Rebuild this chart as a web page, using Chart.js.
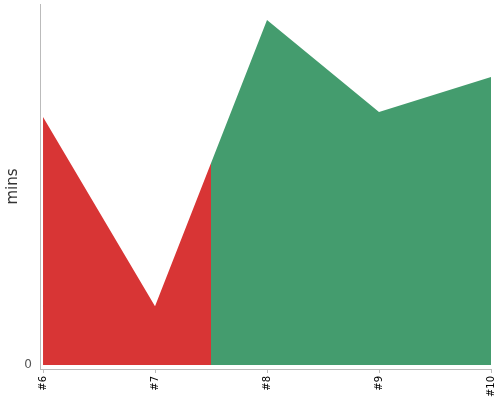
<!DOCTYPE html>
<html>
<head>
<meta charset="utf-8">
<script src="https://cdn.jsdelivr.net/npm/chart.js@4"></script>
<style>
  html, body { margin: 0; padding: 0; background: #fff; }
  #wrap { width: 500px; height: 400px; }
</style>
</head>
<body>
<div id="wrap"><canvas id="grafico"></canvas></div>
<script>
// categories and values (minutes)
const categorias = ['#6', '#7', '#8', '#9', '#10'];
const minutos = [68.7, 16.3, 95.6, 70.1, 79.8];
const yTicks = [0];

const rojo = '#d83535';
const verde = '#449c6e';

// red up to halfway between #7 and #8, green after
function relleno(ctx) {
    const chart = ctx.chart;
    const area = chart.chartArea;
    if (!area) return rojo;
    const xs = chart.scales.x;
    const corte = (xs.getPixelForValue(1) + xs.getPixelForValue(2)) / 2;
    const f = Math.min(Math.max((corte - area.left) / (area.right - area.left), 0), 1);
    const g = chart.ctx.createLinearGradient(area.left, 0, area.right, 0);
    g.addColorStop(0, rojo);
    g.addColorStop(f, rojo);
    g.addColorStop(f, verde);
    g.addColorStop(1, verde);
    return g;
}

const grafico = document.getElementById('grafico').getContext('2d');
new Chart(grafico, {
    type: 'line',
    data: {
        datasets: [{
            label: 'mins',
            data: minutos.map((v, i) => ({ x: i, y: v })),
            fill: 'origin',
            backgroundColor: relleno,
            borderWidth: 0,
            pointRadius: 0,
            tension: 0
        }]
    },
    options: {
        responsive: true,
        maintainAspectRatio: false,
        animation: false,
        layout: { padding: { top: 4, right: 9, left: 0, bottom: 0 } },
        plugins: {
            legend: { display: false },
            tooltip: { enabled: false }
        },
        scales: {
            x: {
                type: 'linear',
                min: -0.027,
                max: categorias.length - 1,
                afterBuildTicks: (s) => { s.ticks = categorias.map((c, i) => ({ value: i })); },
                afterFit: (s) => { s.height = 31; s.paddingLeft = 0; s.paddingRight = 0; },
                grid: { drawOnChartArea: false, color: '#bbb', tickLength: 4 },
                border: { color: '#bbb' },
                ticks: {
                    autoSkip: false,
                    minRotation: 90,
                    maxRotation: 90,
                    padding: 3,
                    color: '#000',
                    font: { family: 'DejaVu Sans', size: 10 },
                    callback: (v) => categorias[v]
                }
            },
            y: {
                min: -1.1,
                max: 100,
                afterBuildTicks: (s) => { s.ticks = yTicks.map(v => ({ value: v })); },
                afterFit: (s) => { s.width = 40; s.paddingTop = 0; s.paddingBottom = 0; },
                grid: { display: false },
                border: { color: '#bbb' },
                title: {
                    display: true,
                    text: 'mins',
                    color: '#333',
                    font: { family: 'DejaVu Sans', size: 15 },
                    padding: 4
                },
                ticks: {
                    color: '#555',
                    padding: 0,
                    font: { family: 'DejaVu Sans', size: 12 }
                }
            }
        }
    }
});
</script>
</body>
</html>
